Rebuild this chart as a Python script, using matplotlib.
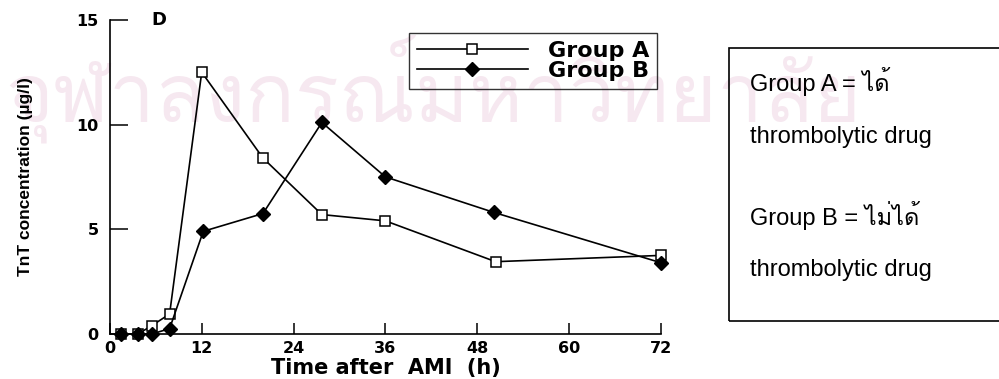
import matplotlib
matplotlib.use("Agg")
import matplotlib.pyplot as plt
from matplotlib import font_manager
from matplotlib.ft2font import FT2Font
from matplotlib.patches import Rectangle

# data (time after AMI in h, TnT in ug/l)
time_a = [1.5, 3.7, 5.5, 7.8, 12.0, 20.0, 27.7, 36.0, 50.4, 72.0]
tnt_a = [0.0, 0.0, 0.4, 0.95, 12.5, 8.4, 5.7, 5.4, 3.45, 3.75]
time_b = [1.5, 3.7, 5.5, 7.8, 12.2, 20.0, 27.7, 36.0, 50.2, 72.0]
tnt_b = [0.0, 0.0, 0.0, 0.25, 4.9, 5.75, 10.1, 7.5, 5.8, 3.4]
x_ticks = [0, 12, 24, 36, 48, 60, 72]
y_ticks = [0, 5, 10, 15]
labels = ["Group A", "Group B"]
notes = ["Group A = ได้", "thrombolytic drug", "Group B = ไม่ได้", "thrombolytic drug"]
watermark = "จุฬาลงกรณ์มหาวิทยาลัย"


def thai_family():
    for f in font_manager.fontManager.ttflist:
        try:
            if ord('ไ') in FT2Font(f.fname).get_charmap():
                return f.name
        except Exception:
            pass
    return 'DejaVu Sans'


thai = thai_family()

fig = plt.figure(figsize=(9.99, 3.79), dpi=100)
fig.text(0.005, 0.765, watermark, fontsize=59, color='#f6e8f0',
         family=[thai, 'DejaVu Sans'], va='center', ha='left', zorder=-5)

ax = fig.add_axes([0.110, 0.119, 0.5516, 0.8285])
ax.patch.set_alpha(0)

ax.plot(time_a, tnt_a, color='black', lw=1.2, marker='s', ms=7.5,
        mfc='white', mec='black', mew=1.1, label=labels[0], clip_on=False, zorder=3)
ax.plot(time_b, tnt_b, color='black', lw=1.2, marker='D', ms=7,
        mfc='black', mec='black', label=labels[1], clip_on=False, zorder=4)

ax.set_xlim(0, 72)
ax.set_ylim(0, 15)
ax.set_xticks(x_ticks)
ax.set_yticks(y_ticks)
for s in ['top', 'right']:
    ax.spines[s].set_visible(False)
for s in ['left', 'bottom']:
    ax.spines[s].set_linewidth(1.2)

ax.tick_params(axis='y', direction='in', length=13, width=1.1, pad=8)
ax.tick_params(axis='x', direction='in', length=8, width=1.1, pad=5)
for lab in ax.get_xticklabels() + ax.get_yticklabels():
    lab.set_fontfamily('DejaVu Sans')
    lab.set_fontweight('bold')
    lab.set_fontsize(11.5)

ax.set_xlabel("Time after  AMI  (h)", fontsize=15, fontweight='bold',
              family='DejaVu Sans', labelpad=1.5)
ax.set_ylabel("TnT concentration (µg/l)", fontsize=12.5, fontweight='bold',
              family='Liberation Sans')
ax.yaxis.set_label_coords(-0.14, 0.5)

ax.text(0.075, 1.0, "D", transform=ax.transAxes, fontsize=13, fontweight='bold',
        family='DejaVu Sans', va='center', ha='left')

leg = ax.legend(loc='upper left', bbox_to_anchor=(409 / 999, 1 - 33 / 379),
                bbox_transform=fig.transFigure, numpoints=1, handlelength=5.0,
                handletextpad=0.9, labelspacing=0.0, borderpad=0.35,
                borderaxespad=0, fancybox=False, facecolor='none', edgecolor='black',
                prop={'family': 'DejaVu Sans', 'weight': 'bold', 'size': 16})
leg.get_frame().set_linewidth(1.0)

# note box on the right
fig.patches.append(Rectangle((729 / 999, 1 - 321 / 379), 0.3, (321 - 48) / 379,
                             transform=fig.transFigure, fill=False,
                             edgecolor='black', lw=1.2, figure=fig))
note_y = [82, 137, 215, 270]
for txt, yy in zip(notes, note_y):
    fig.text(750 / 999, 1 - yy / 379, txt, fontsize=17,
             family=['Liberation Sans', thai], va='center', ha='left')

plt.savefig('out.png', dpi=100)
